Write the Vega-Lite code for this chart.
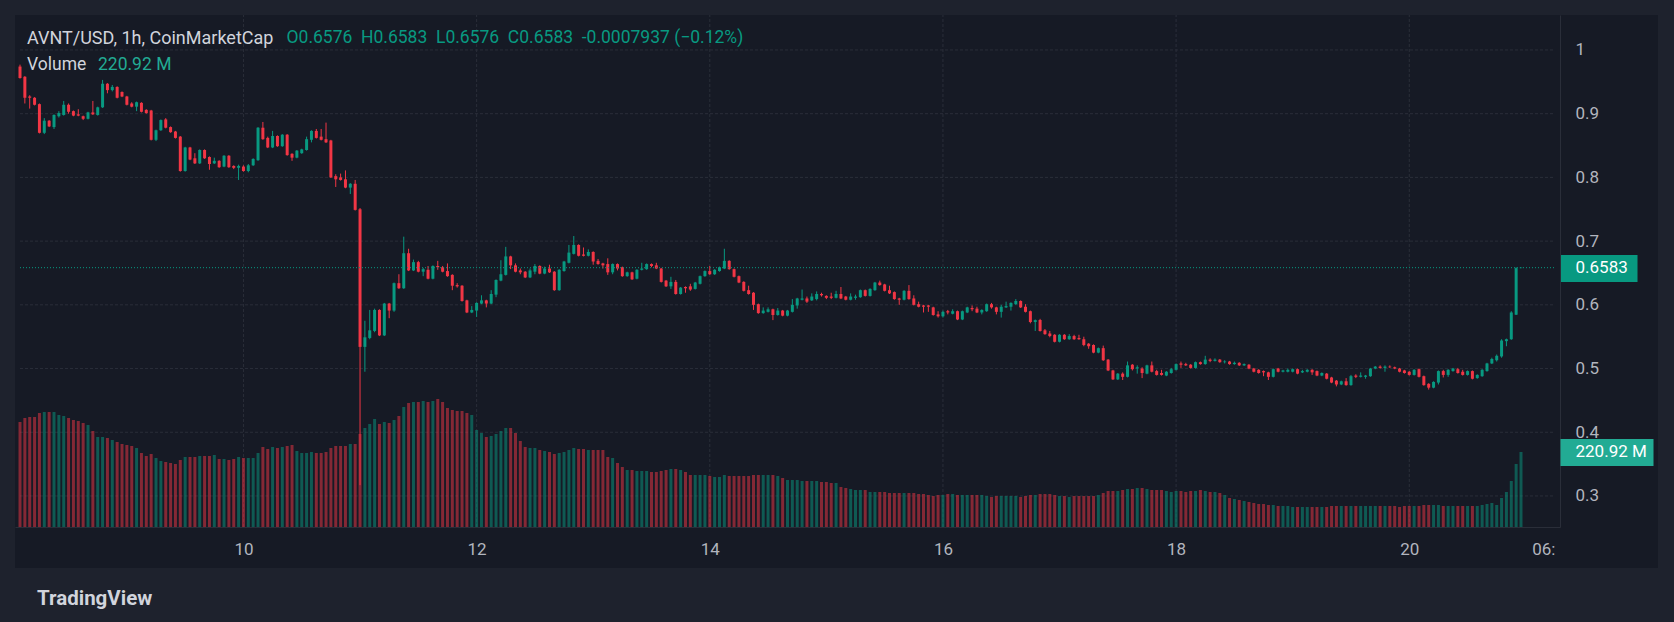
{
  "$schema": "https://vega.github.io/schema/vega-lite/v6.json",
  "width": 1643,
  "height": 553,
  "autosize": {"type": "none"},
  "padding": {"left": 15, "top": 15, "right": 16, "bottom": 54},
  "background": "#1e222d",
  "view": {"fill": "#161a25", "stroke": null},
  "title": {
    "text": "AVNT/USD, 1h, CoinMarketCap",
    "subtitle": "Volume",
    "anchor": "start", "frame": "group", "orient": "top",
    "offset": -59, "dx": 12, "baseline": "top",
    "font": "Roboto", "fontSize": 18, "fontWeight": "normal", "color": "#d1d4dc",
    "subtitleFont": "Roboto", "subtitleFontSize": 17.5, "subtitleColor": "#d1d4dc", "subtitlePadding": 8.5
  },
  "datasets": {
    "hgrid": [{"p": 0.3}, {"p": 0.4}, {"p": 0.5}, {"p": 0.6}, {"p": 0.7}, {"p": 0.8}, {"p": 0.9}, {"p": 1.0}],
    "vgrid": [
      {"t": "2025-09-10T00:00Z"}, {"t": "2025-09-12T00:00Z"}, {"t": "2025-09-14T00:00Z"},
      {"t": "2025-09-16T00:00Z"}, {"t": "2025-09-18T00:00Z"}, {"t": "2025-09-20T00:00Z"}
    ],
    "last": [{"price": 0.6583}],
    "candles": [
    {"t":"2025-09-08T02:00Z","o":0.974,"h":0.977,"l":0.955,"c":0.956,"v":309.3},
    {"t":"2025-09-08T03:00Z","o":0.958,"h":0.959,"l":0.916,"c":0.925,"v":321.1},
    {"t":"2025-09-08T04:00Z","o":0.927,"h":0.929,"l":0.908,"c":0.925,"v":324.0},
    {"t":"2025-09-08T05:00Z","o":0.925,"h":0.926,"l":0.913,"c":0.914,"v":324.0},
    {"t":"2025-09-08T06:00Z","o":0.915,"h":0.916,"l":0.869,"c":0.870,"v":335.8},
    {"t":"2025-09-08T07:00Z","o":0.870,"h":0.893,"l":0.868,"c":0.889,"v":338.7},
    {"t":"2025-09-08T08:00Z","o":0.889,"h":0.890,"l":0.879,"c":0.880,"v":338.7},
    {"t":"2025-09-08T09:00Z","o":0.879,"h":0.899,"l":0.876,"c":0.898,"v":338.7},
    {"t":"2025-09-08T10:00Z","o":0.896,"h":0.904,"l":0.894,"c":0.901,"v":329.9},
    {"t":"2025-09-08T11:00Z","o":0.898,"h":0.920,"l":0.897,"c":0.914,"v":327.0},
    {"t":"2025-09-08T12:00Z","o":0.914,"h":0.916,"l":0.900,"c":0.903,"v":321.1},
    {"t":"2025-09-08T13:00Z","o":0.904,"h":0.905,"l":0.896,"c":0.897,"v":315.2},
    {"t":"2025-09-08T14:00Z","o":0.899,"h":0.907,"l":0.896,"c":0.897,"v":312.2},
    {"t":"2025-09-08T15:00Z","o":0.896,"h":0.897,"l":0.890,"c":0.892,"v":306.3},
    {"t":"2025-09-08T16:00Z","o":0.892,"h":0.903,"l":0.891,"c":0.902,"v":300.5},
    {"t":"2025-09-08T17:00Z","o":0.902,"h":0.920,"l":0.898,"c":0.899,"v":282.8},
    {"t":"2025-09-08T18:00Z","o":0.898,"h":0.911,"l":0.897,"c":0.910,"v":265.1},
    {"t":"2025-09-08T19:00Z","o":0.910,"h":0.953,"l":0.909,"c":0.947,"v":265.1},
    {"t":"2025-09-08T20:00Z","o":0.947,"h":0.948,"l":0.932,"c":0.937,"v":262.2},
    {"t":"2025-09-08T21:00Z","o":0.937,"h":0.945,"l":0.935,"c":0.942,"v":256.3},
    {"t":"2025-09-08T22:00Z","o":0.942,"h":0.943,"l":0.924,"c":0.925,"v":250.4},
    {"t":"2025-09-08T23:00Z","o":0.934,"h":0.935,"l":0.926,"c":0.927,"v":244.5},
    {"t":"2025-09-09T00:00Z","o":0.927,"h":0.928,"l":0.913,"c":0.914,"v":241.5},
    {"t":"2025-09-09T01:00Z","o":0.916,"h":0.918,"l":0.910,"c":0.911,"v":238.6},
    {"t":"2025-09-09T02:00Z","o":0.911,"h":0.919,"l":0.904,"c":0.918,"v":232.7},
    {"t":"2025-09-09T03:00Z","o":0.917,"h":0.918,"l":0.902,"c":0.903,"v":218.0},
    {"t":"2025-09-09T04:00Z","o":0.906,"h":0.907,"l":0.900,"c":0.901,"v":209.1},
    {"t":"2025-09-09T05:00Z","o":0.905,"h":0.906,"l":0.858,"c":0.859,"v":215.0},
    {"t":"2025-09-09T06:00Z","o":0.859,"h":0.875,"l":0.857,"c":0.874,"v":203.2},
    {"t":"2025-09-09T07:00Z","o":0.874,"h":0.891,"l":0.873,"c":0.890,"v":194.4},
    {"t":"2025-09-09T08:00Z","o":0.891,"h":0.893,"l":0.877,"c":0.878,"v":191.5},
    {"t":"2025-09-09T09:00Z","o":0.879,"h":0.880,"l":0.870,"c":0.871,"v":188.5},
    {"t":"2025-09-09T10:00Z","o":0.872,"h":0.873,"l":0.861,"c":0.862,"v":185.6},
    {"t":"2025-09-09T11:00Z","o":0.864,"h":0.865,"l":0.809,"c":0.810,"v":197.4},
    {"t":"2025-09-09T12:00Z","o":0.810,"h":0.848,"l":0.809,"c":0.847,"v":206.2},
    {"t":"2025-09-09T13:00Z","o":0.847,"h":0.848,"l":0.827,"c":0.828,"v":206.2},
    {"t":"2025-09-09T14:00Z","o":0.830,"h":0.838,"l":0.821,"c":0.822,"v":206.2},
    {"t":"2025-09-09T15:00Z","o":0.822,"h":0.844,"l":0.821,"c":0.843,"v":209.1},
    {"t":"2025-09-09T16:00Z","o":0.843,"h":0.844,"l":0.829,"c":0.830,"v":209.1},
    {"t":"2025-09-09T17:00Z","o":0.832,"h":0.833,"l":0.812,"c":0.821,"v":209.1},
    {"t":"2025-09-09T18:00Z","o":0.822,"h":0.831,"l":0.821,"c":0.826,"v":212.1},
    {"t":"2025-09-09T19:00Z","o":0.826,"h":0.827,"l":0.815,"c":0.816,"v":200.3},
    {"t":"2025-09-09T20:00Z","o":0.817,"h":0.835,"l":0.816,"c":0.834,"v":200.3},
    {"t":"2025-09-09T21:00Z","o":0.834,"h":0.835,"l":0.815,"c":0.816,"v":197.4},
    {"t":"2025-09-09T22:00Z","o":0.818,"h":0.819,"l":0.813,"c":0.815,"v":200.3},
    {"t":"2025-09-09T23:00Z","o":0.815,"h":0.820,"l":0.796,"c":0.818,"v":206.2},
    {"t":"2025-09-10T00:00Z","o":0.817,"h":0.819,"l":0.809,"c":0.810,"v":203.2},
    {"t":"2025-09-10T01:00Z","o":0.810,"h":0.821,"l":0.808,"c":0.819,"v":203.2},
    {"t":"2025-09-10T02:00Z","o":0.819,"h":0.830,"l":0.818,"c":0.829,"v":203.2},
    {"t":"2025-09-10T03:00Z","o":0.827,"h":0.879,"l":0.826,"c":0.878,"v":218.0},
    {"t":"2025-09-10T04:00Z","o":0.878,"h":0.887,"l":0.859,"c":0.860,"v":235.6},
    {"t":"2025-09-10T05:00Z","o":0.862,"h":0.864,"l":0.846,"c":0.847,"v":229.8},
    {"t":"2025-09-10T06:00Z","o":0.847,"h":0.873,"l":0.846,"c":0.865,"v":235.6},
    {"t":"2025-09-10T07:00Z","o":0.865,"h":0.866,"l":0.848,"c":0.849,"v":232.7},
    {"t":"2025-09-10T08:00Z","o":0.849,"h":0.868,"l":0.848,"c":0.867,"v":235.6},
    {"t":"2025-09-10T09:00Z","o":0.867,"h":0.868,"l":0.834,"c":0.835,"v":238.6},
    {"t":"2025-09-10T10:00Z","o":0.837,"h":0.838,"l":0.826,"c":0.831,"v":241.5},
    {"t":"2025-09-10T11:00Z","o":0.831,"h":0.843,"l":0.830,"c":0.842,"v":223.9},
    {"t":"2025-09-10T12:00Z","o":0.838,"h":0.845,"l":0.837,"c":0.844,"v":218.0},
    {"t":"2025-09-10T13:00Z","o":0.843,"h":0.864,"l":0.842,"c":0.860,"v":218.0},
    {"t":"2025-09-10T14:00Z","o":0.859,"h":0.874,"l":0.855,"c":0.873,"v":220.9},
    {"t":"2025-09-10T15:00Z","o":0.873,"h":0.876,"l":0.861,"c":0.862,"v":218.0},
    {"t":"2025-09-10T16:00Z","o":0.864,"h":0.876,"l":0.858,"c":0.859,"v":218.0},
    {"t":"2025-09-10T17:00Z","o":0.860,"h":0.886,"l":0.854,"c":0.855,"v":220.9},
    {"t":"2025-09-10T18:00Z","o":0.858,"h":0.859,"l":0.799,"c":0.800,"v":232.7},
    {"t":"2025-09-10T19:00Z","o":0.802,"h":0.805,"l":0.785,"c":0.797,"v":238.6},
    {"t":"2025-09-10T20:00Z","o":0.800,"h":0.806,"l":0.795,"c":0.796,"v":238.6},
    {"t":"2025-09-10T21:00Z","o":0.797,"h":0.811,"l":0.783,"c":0.784,"v":238.6},
    {"t":"2025-09-10T22:00Z","o":0.784,"h":0.791,"l":0.774,"c":0.790,"v":244.5},
    {"t":"2025-09-10T23:00Z","o":0.790,"h":0.796,"l":0.748,"c":0.749,"v":244.5},
    {"t":"2025-09-11T00:00Z","o":0.750,"h":0.752,"l":0.317,"c":0.534,"v":273.9},
    {"t":"2025-09-11T01:00Z","o":0.534,"h":0.575,"l":0.495,"c":0.549,"v":291.6},
    {"t":"2025-09-11T02:00Z","o":0.548,"h":0.592,"l":0.546,"c":0.560,"v":303.4},
    {"t":"2025-09-11T03:00Z","o":0.559,"h":0.594,"l":0.557,"c":0.592,"v":318.1},
    {"t":"2025-09-11T04:00Z","o":0.592,"h":0.593,"l":0.551,"c":0.552,"v":303.4},
    {"t":"2025-09-11T05:00Z","o":0.552,"h":0.603,"l":0.551,"c":0.602,"v":309.3},
    {"t":"2025-09-11T06:00Z","o":0.602,"h":0.603,"l":0.579,"c":0.591,"v":306.3},
    {"t":"2025-09-11T07:00Z","o":0.591,"h":0.635,"l":0.589,"c":0.634,"v":315.2},
    {"t":"2025-09-11T08:00Z","o":0.634,"h":0.648,"l":0.625,"c":0.626,"v":327.0},
    {"t":"2025-09-11T09:00Z","o":0.626,"h":0.707,"l":0.625,"c":0.681,"v":353.5},
    {"t":"2025-09-11T10:00Z","o":0.681,"h":0.688,"l":0.653,"c":0.654,"v":365.3},
    {"t":"2025-09-11T11:00Z","o":0.654,"h":0.671,"l":0.653,"c":0.667,"v":368.2},
    {"t":"2025-09-11T12:00Z","o":0.667,"h":0.669,"l":0.651,"c":0.652,"v":368.2},
    {"t":"2025-09-11T13:00Z","o":0.652,"h":0.658,"l":0.645,"c":0.656,"v":371.1},
    {"t":"2025-09-11T14:00Z","o":0.655,"h":0.661,"l":0.640,"c":0.641,"v":368.2},
    {"t":"2025-09-11T15:00Z","o":0.641,"h":0.662,"l":0.640,"c":0.661,"v":371.1},
    {"t":"2025-09-11T16:00Z","o":0.661,"h":0.669,"l":0.655,"c":0.659,"v":377.0},
    {"t":"2025-09-11T17:00Z","o":0.659,"h":0.661,"l":0.651,"c":0.652,"v":368.2},
    {"t":"2025-09-11T18:00Z","o":0.653,"h":0.665,"l":0.644,"c":0.645,"v":350.5},
    {"t":"2025-09-11T19:00Z","o":0.647,"h":0.648,"l":0.623,"c":0.630,"v":344.6},
    {"t":"2025-09-11T20:00Z","o":0.631,"h":0.634,"l":0.627,"c":0.629,"v":341.7},
    {"t":"2025-09-11T21:00Z","o":0.630,"h":0.631,"l":0.605,"c":0.606,"v":341.7},
    {"t":"2025-09-11T22:00Z","o":0.607,"h":0.608,"l":0.587,"c":0.588,"v":335.8},
    {"t":"2025-09-11T23:00Z","o":0.588,"h":0.598,"l":0.587,"c":0.592,"v":329.9},
    {"t":"2025-09-12T00:00Z","o":0.591,"h":0.604,"l":0.581,"c":0.603,"v":285.7},
    {"t":"2025-09-12T01:00Z","o":0.602,"h":0.615,"l":0.601,"c":0.607,"v":276.9},
    {"t":"2025-09-12T02:00Z","o":0.607,"h":0.608,"l":0.596,"c":0.602,"v":265.1},
    {"t":"2025-09-12T03:00Z","o":0.602,"h":0.623,"l":0.601,"c":0.617,"v":268.1},
    {"t":"2025-09-12T04:00Z","o":0.616,"h":0.640,"l":0.612,"c":0.639,"v":273.9},
    {"t":"2025-09-12T05:00Z","o":0.638,"h":0.670,"l":0.637,"c":0.648,"v":282.8},
    {"t":"2025-09-12T06:00Z","o":0.647,"h":0.691,"l":0.646,"c":0.676,"v":291.6},
    {"t":"2025-09-12T07:00Z","o":0.676,"h":0.677,"l":0.656,"c":0.662,"v":291.6},
    {"t":"2025-09-12T08:00Z","o":0.662,"h":0.665,"l":0.651,"c":0.652,"v":276.9},
    {"t":"2025-09-12T09:00Z","o":0.654,"h":0.657,"l":0.648,"c":0.651,"v":253.3},
    {"t":"2025-09-12T10:00Z","o":0.652,"h":0.653,"l":0.642,"c":0.643,"v":235.6},
    {"t":"2025-09-12T11:00Z","o":0.643,"h":0.657,"l":0.642,"c":0.654,"v":232.7},
    {"t":"2025-09-12T12:00Z","o":0.652,"h":0.664,"l":0.648,"c":0.661,"v":232.7},
    {"t":"2025-09-12T13:00Z","o":0.661,"h":0.662,"l":0.648,"c":0.649,"v":226.8},
    {"t":"2025-09-12T14:00Z","o":0.649,"h":0.660,"l":0.648,"c":0.657,"v":223.9},
    {"t":"2025-09-12T15:00Z","o":0.657,"h":0.663,"l":0.650,"c":0.651,"v":220.9},
    {"t":"2025-09-12T16:00Z","o":0.652,"h":0.653,"l":0.622,"c":0.623,"v":215.0},
    {"t":"2025-09-12T17:00Z","o":0.623,"h":0.656,"l":0.622,"c":0.655,"v":218.0},
    {"t":"2025-09-12T18:00Z","o":0.653,"h":0.669,"l":0.652,"c":0.668,"v":220.9},
    {"t":"2025-09-12T19:00Z","o":0.666,"h":0.694,"l":0.665,"c":0.682,"v":226.8},
    {"t":"2025-09-12T20:00Z","o":0.680,"h":0.708,"l":0.679,"c":0.694,"v":232.7},
    {"t":"2025-09-12T21:00Z","o":0.694,"h":0.695,"l":0.676,"c":0.677,"v":229.8},
    {"t":"2025-09-12T22:00Z","o":0.679,"h":0.690,"l":0.676,"c":0.677,"v":229.8},
    {"t":"2025-09-12T23:00Z","o":0.677,"h":0.687,"l":0.676,"c":0.683,"v":226.8},
    {"t":"2025-09-13T00:00Z","o":0.683,"h":0.684,"l":0.663,"c":0.668,"v":226.8},
    {"t":"2025-09-13T01:00Z","o":0.669,"h":0.672,"l":0.663,"c":0.664,"v":226.8},
    {"t":"2025-09-13T02:00Z","o":0.665,"h":0.666,"l":0.657,"c":0.662,"v":226.8},
    {"t":"2025-09-13T03:00Z","o":0.664,"h":0.673,"l":0.647,"c":0.651,"v":206.2},
    {"t":"2025-09-13T04:00Z","o":0.651,"h":0.665,"l":0.648,"c":0.664,"v":203.2},
    {"t":"2025-09-13T05:00Z","o":0.664,"h":0.665,"l":0.654,"c":0.657,"v":188.5},
    {"t":"2025-09-13T06:00Z","o":0.659,"h":0.660,"l":0.644,"c":0.645,"v":176.7},
    {"t":"2025-09-13T07:00Z","o":0.645,"h":0.652,"l":0.644,"c":0.651,"v":167.9},
    {"t":"2025-09-13T08:00Z","o":0.651,"h":0.652,"l":0.639,"c":0.640,"v":167.9},
    {"t":"2025-09-13T09:00Z","o":0.641,"h":0.656,"l":0.640,"c":0.655,"v":165.0},
    {"t":"2025-09-13T10:00Z","o":0.655,"h":0.666,"l":0.654,"c":0.657,"v":165.0},
    {"t":"2025-09-13T11:00Z","o":0.656,"h":0.665,"l":0.655,"c":0.664,"v":165.0},
    {"t":"2025-09-13T12:00Z","o":0.664,"h":0.665,"l":0.659,"c":0.661,"v":162.0},
    {"t":"2025-09-13T13:00Z","o":0.662,"h":0.666,"l":0.656,"c":0.657,"v":162.0},
    {"t":"2025-09-13T14:00Z","o":0.657,"h":0.658,"l":0.635,"c":0.636,"v":165.0},
    {"t":"2025-09-13T15:00Z","o":0.638,"h":0.639,"l":0.628,"c":0.629,"v":167.9},
    {"t":"2025-09-13T16:00Z","o":0.629,"h":0.644,"l":0.625,"c":0.636,"v":170.8},
    {"t":"2025-09-13T17:00Z","o":0.636,"h":0.639,"l":0.616,"c":0.617,"v":170.8},
    {"t":"2025-09-13T18:00Z","o":0.617,"h":0.628,"l":0.616,"c":0.627,"v":167.9},
    {"t":"2025-09-13T19:00Z","o":0.628,"h":0.629,"l":0.619,"c":0.626,"v":162.0},
    {"t":"2025-09-13T20:00Z","o":0.629,"h":0.633,"l":0.622,"c":0.624,"v":153.2},
    {"t":"2025-09-13T21:00Z","o":0.625,"h":0.636,"l":0.624,"c":0.635,"v":153.2},
    {"t":"2025-09-13T22:00Z","o":0.633,"h":0.646,"l":0.632,"c":0.645,"v":153.2},
    {"t":"2025-09-13T23:00Z","o":0.645,"h":0.654,"l":0.644,"c":0.653,"v":153.2},
    {"t":"2025-09-14T00:00Z","o":0.653,"h":0.661,"l":0.647,"c":0.648,"v":150.2},
    {"t":"2025-09-14T01:00Z","o":0.648,"h":0.656,"l":0.647,"c":0.655,"v":147.3},
    {"t":"2025-09-14T02:00Z","o":0.653,"h":0.660,"l":0.652,"c":0.659,"v":147.3},
    {"t":"2025-09-14T03:00Z","o":0.657,"h":0.688,"l":0.656,"c":0.669,"v":153.2},
    {"t":"2025-09-14T04:00Z","o":0.669,"h":0.670,"l":0.655,"c":0.656,"v":150.2},
    {"t":"2025-09-14T05:00Z","o":0.656,"h":0.657,"l":0.643,"c":0.644,"v":150.2},
    {"t":"2025-09-14T06:00Z","o":0.645,"h":0.646,"l":0.634,"c":0.635,"v":150.2},
    {"t":"2025-09-14T07:00Z","o":0.636,"h":0.637,"l":0.621,"c":0.622,"v":150.2},
    {"t":"2025-09-14T08:00Z","o":0.623,"h":0.630,"l":0.616,"c":0.617,"v":150.2},
    {"t":"2025-09-14T09:00Z","o":0.619,"h":0.620,"l":0.592,"c":0.600,"v":153.2},
    {"t":"2025-09-14T10:00Z","o":0.601,"h":0.602,"l":0.586,"c":0.587,"v":153.2},
    {"t":"2025-09-14T11:00Z","o":0.587,"h":0.596,"l":0.586,"c":0.591,"v":153.2},
    {"t":"2025-09-14T12:00Z","o":0.589,"h":0.596,"l":0.588,"c":0.593,"v":153.2},
    {"t":"2025-09-14T13:00Z","o":0.593,"h":0.594,"l":0.576,"c":0.584,"v":153.2},
    {"t":"2025-09-14T14:00Z","o":0.584,"h":0.595,"l":0.583,"c":0.591,"v":150.2},
    {"t":"2025-09-14T15:00Z","o":0.591,"h":0.592,"l":0.582,"c":0.583,"v":144.3},
    {"t":"2025-09-14T16:00Z","o":0.583,"h":0.592,"l":0.582,"c":0.591,"v":138.4},
    {"t":"2025-09-14T17:00Z","o":0.589,"h":0.609,"l":0.588,"c":0.600,"v":138.4},
    {"t":"2025-09-14T18:00Z","o":0.599,"h":0.611,"l":0.594,"c":0.610,"v":138.4},
    {"t":"2025-09-14T19:00Z","o":0.608,"h":0.624,"l":0.607,"c":0.610,"v":135.5},
    {"t":"2025-09-14T20:00Z","o":0.610,"h":0.613,"l":0.603,"c":0.605,"v":135.5},
    {"t":"2025-09-14T21:00Z","o":0.607,"h":0.618,"l":0.606,"c":0.613,"v":135.5},
    {"t":"2025-09-14T22:00Z","o":0.609,"h":0.621,"l":0.607,"c":0.617,"v":135.5},
    {"t":"2025-09-14T23:00Z","o":0.617,"h":0.619,"l":0.613,"c":0.615,"v":132.6},
    {"t":"2025-09-15T00:00Z","o":0.614,"h":0.615,"l":0.609,"c":0.611,"v":132.6},
    {"t":"2025-09-15T01:00Z","o":0.613,"h":0.619,"l":0.609,"c":0.611,"v":129.6},
    {"t":"2025-09-15T02:00Z","o":0.611,"h":0.622,"l":0.610,"c":0.617,"v":129.6},
    {"t":"2025-09-15T03:00Z","o":0.617,"h":0.628,"l":0.609,"c":0.610,"v":117.8},
    {"t":"2025-09-15T04:00Z","o":0.613,"h":0.614,"l":0.607,"c":0.608,"v":114.9},
    {"t":"2025-09-15T05:00Z","o":0.608,"h":0.618,"l":0.607,"c":0.613,"v":111.9},
    {"t":"2025-09-15T06:00Z","o":0.611,"h":0.616,"l":0.608,"c":0.613,"v":109.0},
    {"t":"2025-09-15T07:00Z","o":0.612,"h":0.624,"l":0.611,"c":0.623,"v":109.0},
    {"t":"2025-09-15T08:00Z","o":0.623,"h":0.624,"l":0.613,"c":0.614,"v":109.0},
    {"t":"2025-09-15T09:00Z","o":0.614,"h":0.626,"l":0.613,"c":0.625,"v":103.1},
    {"t":"2025-09-15T10:00Z","o":0.623,"h":0.636,"l":0.622,"c":0.635,"v":103.1},
    {"t":"2025-09-15T11:00Z","o":0.635,"h":0.638,"l":0.630,"c":0.631,"v":103.1},
    {"t":"2025-09-15T12:00Z","o":0.632,"h":0.633,"l":0.621,"c":0.622,"v":103.1},
    {"t":"2025-09-15T13:00Z","o":0.623,"h":0.630,"l":0.617,"c":0.618,"v":100.2},
    {"t":"2025-09-15T14:00Z","o":0.620,"h":0.621,"l":0.608,"c":0.609,"v":100.2},
    {"t":"2025-09-15T15:00Z","o":0.610,"h":0.611,"l":0.600,"c":0.608,"v":100.2},
    {"t":"2025-09-15T16:00Z","o":0.608,"h":0.623,"l":0.607,"c":0.622,"v":100.2},
    {"t":"2025-09-15T17:00Z","o":0.622,"h":0.631,"l":0.608,"c":0.609,"v":100.2},
    {"t":"2025-09-15T18:00Z","o":0.610,"h":0.615,"l":0.599,"c":0.600,"v":100.2},
    {"t":"2025-09-15T19:00Z","o":0.601,"h":0.605,"l":0.596,"c":0.597,"v":97.2},
    {"t":"2025-09-15T20:00Z","o":0.599,"h":0.600,"l":0.588,"c":0.597,"v":97.2},
    {"t":"2025-09-15T21:00Z","o":0.599,"h":0.600,"l":0.589,"c":0.597,"v":94.3},
    {"t":"2025-09-15T22:00Z","o":0.596,"h":0.597,"l":0.583,"c":0.584,"v":91.3},
    {"t":"2025-09-15T23:00Z","o":0.585,"h":0.590,"l":0.580,"c":0.582,"v":94.3},
    {"t":"2025-09-16T00:00Z","o":0.582,"h":0.591,"l":0.580,"c":0.589,"v":94.3},
    {"t":"2025-09-16T01:00Z","o":0.590,"h":0.592,"l":0.585,"c":0.588,"v":97.2},
    {"t":"2025-09-16T02:00Z","o":0.586,"h":0.593,"l":0.585,"c":0.590,"v":97.2},
    {"t":"2025-09-16T03:00Z","o":0.590,"h":0.591,"l":0.576,"c":0.577,"v":94.3},
    {"t":"2025-09-16T04:00Z","o":0.577,"h":0.591,"l":0.576,"c":0.590,"v":94.3},
    {"t":"2025-09-16T05:00Z","o":0.588,"h":0.597,"l":0.587,"c":0.596,"v":94.3},
    {"t":"2025-09-16T06:00Z","o":0.595,"h":0.599,"l":0.590,"c":0.593,"v":94.3},
    {"t":"2025-09-16T07:00Z","o":0.594,"h":0.597,"l":0.587,"c":0.588,"v":94.3},
    {"t":"2025-09-16T08:00Z","o":0.588,"h":0.593,"l":0.585,"c":0.592,"v":94.3},
    {"t":"2025-09-16T09:00Z","o":0.590,"h":0.602,"l":0.589,"c":0.601,"v":91.3},
    {"t":"2025-09-16T10:00Z","o":0.601,"h":0.603,"l":0.594,"c":0.596,"v":88.4},
    {"t":"2025-09-16T11:00Z","o":0.596,"h":0.597,"l":0.585,"c":0.589,"v":91.3},
    {"t":"2025-09-16T12:00Z","o":0.589,"h":0.600,"l":0.580,"c":0.597,"v":91.3},
    {"t":"2025-09-16T13:00Z","o":0.596,"h":0.605,"l":0.595,"c":0.598,"v":91.3},
    {"t":"2025-09-16T14:00Z","o":0.597,"h":0.604,"l":0.591,"c":0.603,"v":91.3},
    {"t":"2025-09-16T15:00Z","o":0.601,"h":0.609,"l":0.600,"c":0.606,"v":91.3},
    {"t":"2025-09-16T16:00Z","o":0.606,"h":0.607,"l":0.595,"c":0.596,"v":88.4},
    {"t":"2025-09-16T17:00Z","o":0.597,"h":0.601,"l":0.588,"c":0.589,"v":91.3},
    {"t":"2025-09-16T18:00Z","o":0.590,"h":0.591,"l":0.571,"c":0.573,"v":94.3},
    {"t":"2025-09-16T19:00Z","o":0.573,"h":0.577,"l":0.559,"c":0.576,"v":94.3},
    {"t":"2025-09-16T20:00Z","o":0.576,"h":0.578,"l":0.558,"c":0.559,"v":97.2},
    {"t":"2025-09-16T21:00Z","o":0.560,"h":0.562,"l":0.553,"c":0.554,"v":97.2},
    {"t":"2025-09-16T22:00Z","o":0.555,"h":0.559,"l":0.549,"c":0.551,"v":97.2},
    {"t":"2025-09-16T23:00Z","o":0.553,"h":0.554,"l":0.541,"c":0.542,"v":94.3},
    {"t":"2025-09-17T00:00Z","o":0.542,"h":0.554,"l":0.541,"c":0.553,"v":91.3},
    {"t":"2025-09-17T01:00Z","o":0.553,"h":0.554,"l":0.545,"c":0.546,"v":91.3},
    {"t":"2025-09-17T02:00Z","o":0.546,"h":0.554,"l":0.545,"c":0.551,"v":88.4},
    {"t":"2025-09-17T03:00Z","o":0.551,"h":0.553,"l":0.545,"c":0.546,"v":91.3},
    {"t":"2025-09-17T04:00Z","o":0.548,"h":0.553,"l":0.545,"c":0.546,"v":91.3},
    {"t":"2025-09-17T05:00Z","o":0.546,"h":0.550,"l":0.535,"c":0.537,"v":91.3},
    {"t":"2025-09-17T06:00Z","o":0.539,"h":0.540,"l":0.531,"c":0.535,"v":91.3},
    {"t":"2025-09-17T07:00Z","o":0.537,"h":0.538,"l":0.524,"c":0.525,"v":91.3},
    {"t":"2025-09-17T08:00Z","o":0.525,"h":0.533,"l":0.524,"c":0.532,"v":94.3},
    {"t":"2025-09-17T09:00Z","o":0.532,"h":0.536,"l":0.512,"c":0.513,"v":100.2},
    {"t":"2025-09-17T10:00Z","o":0.514,"h":0.515,"l":0.496,"c":0.497,"v":106.0},
    {"t":"2025-09-17T11:00Z","o":0.497,"h":0.498,"l":0.482,"c":0.483,"v":106.0},
    {"t":"2025-09-17T12:00Z","o":0.483,"h":0.493,"l":0.482,"c":0.492,"v":106.0},
    {"t":"2025-09-17T13:00Z","o":0.492,"h":0.494,"l":0.482,"c":0.487,"v":109.0},
    {"t":"2025-09-17T14:00Z","o":0.487,"h":0.511,"l":0.486,"c":0.505,"v":111.9},
    {"t":"2025-09-17T15:00Z","o":0.506,"h":0.507,"l":0.497,"c":0.499,"v":111.9},
    {"t":"2025-09-17T16:00Z","o":0.500,"h":0.505,"l":0.492,"c":0.502,"v":114.9},
    {"t":"2025-09-17T17:00Z","o":0.500,"h":0.502,"l":0.485,"c":0.493,"v":114.9},
    {"t":"2025-09-17T18:00Z","o":0.492,"h":0.506,"l":0.491,"c":0.505,"v":111.9},
    {"t":"2025-09-17T19:00Z","o":0.505,"h":0.511,"l":0.494,"c":0.495,"v":109.0},
    {"t":"2025-09-17T20:00Z","o":0.496,"h":0.498,"l":0.489,"c":0.490,"v":109.0},
    {"t":"2025-09-17T21:00Z","o":0.493,"h":0.498,"l":0.489,"c":0.490,"v":109.0},
    {"t":"2025-09-17T22:00Z","o":0.489,"h":0.496,"l":0.488,"c":0.495,"v":106.0},
    {"t":"2025-09-17T23:00Z","o":0.493,"h":0.501,"l":0.492,"c":0.499,"v":103.1},
    {"t":"2025-09-18T00:00Z","o":0.498,"h":0.508,"l":0.497,"c":0.507,"v":106.0},
    {"t":"2025-09-18T01:00Z","o":0.508,"h":0.511,"l":0.501,"c":0.506,"v":106.0},
    {"t":"2025-09-18T02:00Z","o":0.507,"h":0.509,"l":0.504,"c":0.505,"v":103.1},
    {"t":"2025-09-18T03:00Z","o":0.506,"h":0.507,"l":0.500,"c":0.501,"v":106.0},
    {"t":"2025-09-18T04:00Z","o":0.501,"h":0.511,"l":0.500,"c":0.510,"v":106.0},
    {"t":"2025-09-18T05:00Z","o":0.510,"h":0.511,"l":0.506,"c":0.507,"v":109.0},
    {"t":"2025-09-18T06:00Z","o":0.507,"h":0.520,"l":0.506,"c":0.514,"v":106.0},
    {"t":"2025-09-18T07:00Z","o":0.514,"h":0.516,"l":0.510,"c":0.512,"v":103.1},
    {"t":"2025-09-18T08:00Z","o":0.512,"h":0.516,"l":0.511,"c":0.514,"v":103.1},
    {"t":"2025-09-18T09:00Z","o":0.514,"h":0.515,"l":0.509,"c":0.510,"v":100.2},
    {"t":"2025-09-18T10:00Z","o":0.510,"h":0.513,"l":0.508,"c":0.511,"v":94.3},
    {"t":"2025-09-18T11:00Z","o":0.511,"h":0.512,"l":0.506,"c":0.507,"v":85.4},
    {"t":"2025-09-18T12:00Z","o":0.507,"h":0.511,"l":0.506,"c":0.509,"v":82.5},
    {"t":"2025-09-18T13:00Z","o":0.509,"h":0.510,"l":0.504,"c":0.505,"v":79.5},
    {"t":"2025-09-18T14:00Z","o":0.505,"h":0.508,"l":0.504,"c":0.507,"v":76.6},
    {"t":"2025-09-18T15:00Z","o":0.506,"h":0.507,"l":0.499,"c":0.500,"v":73.6},
    {"t":"2025-09-18T16:00Z","o":0.500,"h":0.501,"l":0.494,"c":0.495,"v":70.7},
    {"t":"2025-09-18T17:00Z","o":0.498,"h":0.499,"l":0.492,"c":0.493,"v":67.7},
    {"t":"2025-09-18T18:00Z","o":0.496,"h":0.497,"l":0.488,"c":0.494,"v":67.7},
    {"t":"2025-09-18T19:00Z","o":0.494,"h":0.495,"l":0.482,"c":0.487,"v":64.8},
    {"t":"2025-09-18T20:00Z","o":0.487,"h":0.500,"l":0.486,"c":0.499,"v":64.8},
    {"t":"2025-09-18T21:00Z","o":0.500,"h":0.501,"l":0.494,"c":0.495,"v":61.9},
    {"t":"2025-09-18T22:00Z","o":0.495,"h":0.498,"l":0.494,"c":0.497,"v":61.9},
    {"t":"2025-09-18T23:00Z","o":0.495,"h":0.500,"l":0.494,"c":0.498,"v":61.9},
    {"t":"2025-09-19T00:00Z","o":0.495,"h":0.500,"l":0.494,"c":0.499,"v":58.9},
    {"t":"2025-09-19T01:00Z","o":0.499,"h":0.500,"l":0.491,"c":0.492,"v":58.9},
    {"t":"2025-09-19T02:00Z","o":0.494,"h":0.498,"l":0.493,"c":0.496,"v":58.9},
    {"t":"2025-09-19T03:00Z","o":0.495,"h":0.499,"l":0.494,"c":0.498,"v":58.9},
    {"t":"2025-09-19T04:00Z","o":0.498,"h":0.499,"l":0.490,"c":0.494,"v":58.9},
    {"t":"2025-09-19T05:00Z","o":0.496,"h":0.497,"l":0.488,"c":0.489,"v":58.9},
    {"t":"2025-09-19T06:00Z","o":0.489,"h":0.494,"l":0.488,"c":0.493,"v":58.9},
    {"t":"2025-09-19T07:00Z","o":0.492,"h":0.493,"l":0.483,"c":0.484,"v":58.9},
    {"t":"2025-09-19T08:00Z","o":0.486,"h":0.487,"l":0.477,"c":0.478,"v":61.9},
    {"t":"2025-09-19T09:00Z","o":0.481,"h":0.482,"l":0.472,"c":0.475,"v":61.9},
    {"t":"2025-09-19T10:00Z","o":0.475,"h":0.481,"l":0.474,"c":0.480,"v":61.9},
    {"t":"2025-09-19T11:00Z","o":0.480,"h":0.485,"l":0.473,"c":0.474,"v":61.9},
    {"t":"2025-09-19T12:00Z","o":0.474,"h":0.490,"l":0.473,"c":0.488,"v":61.9},
    {"t":"2025-09-19T13:00Z","o":0.489,"h":0.491,"l":0.485,"c":0.487,"v":61.9},
    {"t":"2025-09-19T14:00Z","o":0.487,"h":0.494,"l":0.486,"c":0.489,"v":61.9},
    {"t":"2025-09-19T15:00Z","o":0.487,"h":0.490,"l":0.484,"c":0.489,"v":61.9},
    {"t":"2025-09-19T16:00Z","o":0.488,"h":0.501,"l":0.487,"c":0.500,"v":61.9},
    {"t":"2025-09-19T17:00Z","o":0.500,"h":0.504,"l":0.499,"c":0.503,"v":61.9},
    {"t":"2025-09-19T18:00Z","o":0.503,"h":0.505,"l":0.500,"c":0.501,"v":61.9},
    {"t":"2025-09-19T19:00Z","o":0.501,"h":0.505,"l":0.495,"c":0.503,"v":61.9},
    {"t":"2025-09-19T20:00Z","o":0.503,"h":0.505,"l":0.501,"c":0.502,"v":61.9},
    {"t":"2025-09-19T21:00Z","o":0.502,"h":0.503,"l":0.499,"c":0.500,"v":61.9},
    {"t":"2025-09-19T22:00Z","o":0.500,"h":0.501,"l":0.494,"c":0.495,"v":58.9},
    {"t":"2025-09-19T23:00Z","o":0.497,"h":0.498,"l":0.492,"c":0.493,"v":61.9},
    {"t":"2025-09-20T00:00Z","o":0.495,"h":0.496,"l":0.489,"c":0.490,"v":61.9},
    {"t":"2025-09-20T01:00Z","o":0.490,"h":0.499,"l":0.489,"c":0.498,"v":61.9},
    {"t":"2025-09-20T02:00Z","o":0.499,"h":0.500,"l":0.486,"c":0.487,"v":61.9},
    {"t":"2025-09-20T03:00Z","o":0.488,"h":0.489,"l":0.473,"c":0.474,"v":64.8},
    {"t":"2025-09-20T04:00Z","o":0.476,"h":0.477,"l":0.467,"c":0.470,"v":64.8},
    {"t":"2025-09-20T05:00Z","o":0.470,"h":0.480,"l":0.469,"c":0.479,"v":64.8},
    {"t":"2025-09-20T06:00Z","o":0.478,"h":0.497,"l":0.475,"c":0.496,"v":64.8},
    {"t":"2025-09-20T07:00Z","o":0.496,"h":0.498,"l":0.486,"c":0.490,"v":61.9},
    {"t":"2025-09-20T08:00Z","o":0.490,"h":0.499,"l":0.487,"c":0.498,"v":61.9},
    {"t":"2025-09-20T09:00Z","o":0.496,"h":0.501,"l":0.495,"c":0.500,"v":61.9},
    {"t":"2025-09-20T10:00Z","o":0.499,"h":0.501,"l":0.492,"c":0.493,"v":61.9},
    {"t":"2025-09-20T11:00Z","o":0.495,"h":0.498,"l":0.489,"c":0.490,"v":61.9},
    {"t":"2025-09-20T12:00Z","o":0.490,"h":0.497,"l":0.489,"c":0.496,"v":61.9},
    {"t":"2025-09-20T13:00Z","o":0.496,"h":0.497,"l":0.483,"c":0.484,"v":61.9},
    {"t":"2025-09-20T14:00Z","o":0.485,"h":0.491,"l":0.484,"c":0.490,"v":61.9},
    {"t":"2025-09-20T15:00Z","o":0.488,"h":0.499,"l":0.487,"c":0.498,"v":64.8},
    {"t":"2025-09-20T16:00Z","o":0.496,"h":0.509,"l":0.495,"c":0.508,"v":67.7},
    {"t":"2025-09-20T17:00Z","o":0.508,"h":0.517,"l":0.507,"c":0.515,"v":70.7},
    {"t":"2025-09-20T18:00Z","o":0.513,"h":0.522,"l":0.511,"c":0.520,"v":64.8},
    {"t":"2025-09-20T19:00Z","o":0.519,"h":0.546,"l":0.517,"c":0.544,"v":85.4},
    {"t":"2025-09-20T20:00Z","o":0.543,"h":0.547,"l":0.535,"c":0.546,"v":103.1},
    {"t":"2025-09-20T21:00Z","o":0.546,"h":0.590,"l":0.545,"c":0.588,"v":135.5},
    {"t":"2025-09-20T22:00Z","o":0.5845,"h":0.659,"l":0.584,"c":0.6576,"v":185.6},
    {"t":"2025-09-20T23:00Z","o":0.6576,"h":0.6583,"l":0.6576,"c":0.6583,"v":220.92}
    ]
  },
  "data": {"name": "candles"},
  "layer": [
    {
      "data": {"name": "hgrid"},
      "mark": {"type": "rule", "strokeWidth": 1, "strokeDash": [3, 2], "color": "#2a2e39"},
      "encoding": {
        "x": {"datum": {"year": 2025, "month": 9, "date": 8, "hours": 2, "utc": true}, "type": "temporal"},
        "x2": {"datum": {"year": 2025, "month": 9, "date": 21, "hours": 6, "utc": true}},
        "y": {
          "field": "p", "type": "quantitative",
          "scale": {"domain": [0.2513, 1.0549], "range": [512, 0], "nice": false, "zero": false},
          "axis": null
        }
      }
    },
    {
      "data": {"name": "vgrid"},
      "mark": {"type": "rule", "strokeWidth": 1, "strokeDash": [3, 2], "color": "#2a2e39"},
      "encoding": {
        "x": {"field": "t", "type": "temporal"},
        "y": {
          "datum": 0.2513, "type": "quantitative",
          "scale": {"domain": [0.2513, 1.0549], "range": [512, 0], "nice": false, "zero": false},
          "axis": null
        },
        "y2": {"datum": 1.0549}
      }
    },
    {
      "mark": {"type": "bar", "width": 3, "opacity": 0.5, "clip": true},
      "encoding": {
        "x": {
          "field": "t", "type": "temporal",
          "scale": {
            "type": "utc", "nice": false, "range": [0, 1545],
            "domain": [
              {"year": 2025, "month": 9, "date": 8, "hours": 2, "utc": true},
              {"year": 2025, "month": 9, "date": 21, "hours": 6, "utc": true}
            ]
          },
          "axis": {
            "values": [
              {"year": 2025, "month": 9, "date": 10, "utc": true},
              {"year": 2025, "month": 9, "date": 12, "utc": true},
              {"year": 2025, "month": 9, "date": 14, "utc": true},
              {"year": 2025, "month": 9, "date": 16, "utc": true},
              {"year": 2025, "month": 9, "date": 18, "utc": true},
              {"year": 2025, "month": 9, "date": 20, "utc": true},
              {"year": 2025, "month": 9, "date": 21, "hours": 6, "utc": true}
            ],
            "labelExpr": "utcFormat(datum.value, '%H') === '06' ? '06:' : utcFormat(datum.value, '%-d')",
            "labelAlign": {"condition": {"test": "utcFormat(datum.value, '%H') === '06'", "value": "right"}, "value": "center"},
            "offset": -41,
            "grid": false,
            "domain": true, "domainColor": "#2a2e39",
            "ticks": false, "tickSize": 0,
            "labelColor": "#b2b5be", "labelFont": "Roboto", "labelFontSize": 17,
            "labelBaseline": "middle", "labelPadding": 22, "labelFlush": false, "labelOverlap": false,
            "title": "O0.6576 \u00a0H0.6583 \u00a0L0.6576 \u00a0C0.6583 \u00a0-0.0007937 (\u22120.12%)",
            "titleColor": "#089981", "titleFont": "Roboto", "titleFontSize": 17.5, "titleFontWeight": "normal",
            "titleX": 271, "titleY": -489.5, "titleAlign": "left", "titleBaseline": "middle", "titleAngle": 0,
            "zindex": 1
          }
        },
        "y": {
          "field": "v", "type": "quantitative",
          "scale": {"domain": [0, 1508.1], "range": [512, 0], "nice": false, "zero": true},
          "axis": {
            "orient": "right", "offset": -98,
            "values": [220.92],
            "labelExpr": "'220.92 M'",
            "grid": false, "domain": false,
            "ticks": true, "tickSize": 93, "tickWidth": 27, "tickColor": "#22ab94",
            "labelPadding": -78, "labelColor": "#ffffff", "labelFont": "Roboto", "labelFontSize": 17,
            "title": "220.92 M",
            "titleColor": "#22ab94", "titleFont": "Roboto", "titleFontSize": 17.5, "titleFontWeight": "normal",
            "titleX": -1462.5, "titleY": 49, "titleAlign": "left", "titleBaseline": "middle", "titleAngle": 0,
            "zindex": 3
          }
        },
        "color": {"condition": {"test": "datum.c >= datum.o", "value": "#089981"}, "value": "#f23645"}
      }
    },
    {
      "layer": [
        {
          "mark": {"type": "rule", "strokeWidth": 1, "clip": true},
          "encoding": {
            "x": {"field": "t", "type": "temporal"},
            "y": {
              "field": "l", "type": "quantitative",
              "scale": {"domain": [0.2513, 1.0549], "range": [512, 0], "nice": false, "zero": false},
              "axis": {
                "orient": "right", "offset": -98,
                "values": [0.3, 0.4, 0.5, 0.6, 0.6583, 0.7, 0.8, 0.9, 1],
                "format": ".4~f",
                "grid": false,
                "domain": true, "domainColor": "#2a2e39",
                "ticks": true, "tickSize": 77, "tickWidth": 27,
                "tickColor": {"condition": {"test": "datum.value === 0.6583", "value": "#089981"}, "value": "transparent"},
                "labelPadding": -62,
                "labelColor": {"condition": {"test": "datum.value === 0.6583", "value": "#ffffff"}, "value": "#b2b5be"},
                "labelFont": "Roboto", "labelFontSize": 17, "labelOverlap": false, "labelFlush": false,
                "title": "TradingView",
                "titleColor": "#d1d4dc", "titleFont": "Roboto", "titleFontSize": 20.5, "titleFontWeight": "bold",
                "titleX": -1523.5, "titleY": 583, "titleAlign": "left", "titleBaseline": "middle", "titleAngle": 0,
                "zindex": 2
              }
            },
            "y2": {"field": "h"},
            "color": {"condition": {"test": "datum.c >= datum.o", "value": "#089981"}, "value": "#f23645"}
          }
        },
        {
          "mark": {"type": "bar", "width": 3, "clip": true},
          "encoding": {
            "x": {"field": "t", "type": "temporal"},
            "y": {
              "field": "o", "type": "quantitative",
              "scale": {"domain": [0.2513, 1.0549], "range": [512, 0], "nice": false, "zero": false}
            },
            "y2": {"field": "c"},
            "color": {"condition": {"test": "datum.c >= datum.o", "value": "#089981"}, "value": "#f23645"}
          }
        },
        {
          "data": {"name": "last"},
          "mark": {"type": "rule", "strokeWidth": 1, "strokeDash": [1, 2], "color": "#089981"},
          "encoding": {
            "x": {"datum": {"year": 2025, "month": 9, "date": 8, "hours": 2, "utc": true}, "type": "temporal"},
            "x2": {"datum": {"year": 2025, "month": 9, "date": 21, "hours": 6, "utc": true}},
            "y": {
              "field": "price", "type": "quantitative",
              "scale": {"domain": [0.2513, 1.0549], "range": [512, 0], "nice": false, "zero": false}
            }
          }
        }
      ]
    }
  ],
  "resolve": {"scale": {"y": "independent"}, "axis": {"y": "independent"}}
}
